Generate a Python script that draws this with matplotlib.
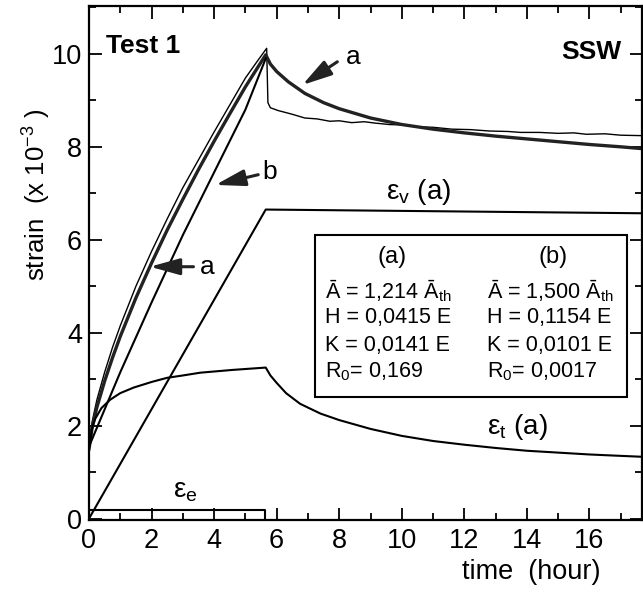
import matplotlib
matplotlib.use('Agg')
import matplotlib.pyplot as plt
from matplotlib.patches import Rectangle
from matplotlib.ticker import MultipleLocator

plt.rcParams['font.family'] = ['Liberation Sans', 'DejaVu Sans']
plt.rcParams['mathtext.fontset'] = 'custom'
plt.rcParams['mathtext.rm'] = 'Liberation Sans'
plt.rcParams['mathtext.it'] = 'Liberation Sans:italic'

'''measured strain (thin noisy line), time in hours, strain x 1e-3'''
t_exp = [0, 0.05, 0.1, 0.25, 0.5, 0.75, 1, 1.5, 2, 2.5, 3, 3.5, 4, 4.5, 5, 5.4, 5.68,
         5.72, 5.8, 6.05, 6.5, 6.9, 7.3, 7.7, 8.0, 8.4, 8.8, 9.15, 9.6, 10.0, 10.5,
         11.0, 11.6, 12.2, 12.8, 13.4, 13.8, 14.4, 15.0, 15.5, 15.9, 16.5, 17.0, 17.7]
s_exp = [1.6, 1.85, 2.08, 2.55, 3.15, 3.68, 4.15, 5.0, 5.75, 6.45, 7.12, 7.72, 8.32, 8.9, 9.48, 9.86, 10.12,
         8.95, 8.84, 8.78, 8.7, 8.62, 8.6, 8.55, 8.56, 8.52, 8.54, 8.51, 8.48, 8.47, 8.43,
         8.42, 8.38, 8.37, 8.34, 8.33, 8.31, 8.31, 8.29, 8.3, 8.27, 8.28, 8.25, 8.24]

'''model (a), thick line'''
t_a = [0, 0.1, 0.25, 0.5, 0.75, 1, 1.5, 2, 2.5, 3, 3.5, 4, 4.5, 5, 5.65,
       5.8, 6.0, 6.37, 6.9, 7.5, 8.0, 9.0, 10.0, 11.0, 12.0, 13.0, 14.0, 15.0, 16.0, 17.0, 17.7]
s_a = [1.5, 1.95, 2.39, 2.96, 3.46, 3.92, 4.75, 5.5, 6.21, 6.87, 7.51, 8.12, 8.71, 9.29, 9.98,
       9.78, 9.62, 9.4, 9.15, 8.95, 8.82, 8.62, 8.48, 8.38, 8.3, 8.23, 8.17, 8.11, 8.05, 8.0, 7.96]

'''model (b), loading part'''
t_b = [0, 1, 2, 3, 4, 5, 5.65]
s_b = [1.55, 3.15, 4.65, 6.1, 7.45, 8.8, 9.9]

'''components of model (a)'''
t_v = [0, 5.65, 17.7]
s_v = [0, 6.65, 6.57]

t_t = [0, 0.1, 0.2, 0.4, 0.68, 1.0, 1.43, 2.0, 2.5, 3.0, 3.56, 4.6, 5.65,
       5.8, 6.0, 6.3, 6.75, 7.4, 8.0, 9.0, 10.0, 11.0, 12.0, 13.0, 14.0, 15.0, 16.0, 17.0, 17.7]
s_t = [1.5, 1.95, 2.15, 2.38, 2.56, 2.7, 2.82, 2.94, 3.03, 3.08, 3.14, 3.2, 3.25,
       3.08, 2.92, 2.7, 2.47, 2.26, 2.12, 1.93, 1.78, 1.67, 1.59, 1.52, 1.46, 1.42, 1.38, 1.35, 1.33]

t_e = [0, 0, 5.64, 5.64]
s_e = [0, 0.18, 0.18, 0]

fig = plt.figure(figsize=(6.43, 5.93), dpi=100)
ax = fig.add_axes([89/643, 73/593, 553/643, 514/593])

ax.plot(t_exp, s_exp, color='black', lw=1.0)
ax.plot(t_a, s_a, color='#222222', lw=2.4)
ax.plot(t_b, s_b, color='black', lw=1.5)
ax.plot(t_v, s_v, color='black', lw=1.5)
ax.plot(t_t, s_t, color='black', lw=1.5)
ax.plot(t_e, s_e, color='black', lw=1.5)

ax.set_xlim(0, 17.68)
ax.set_ylim(-0.03, 11.03)
ax.xaxis.set_major_locator(MultipleLocator(2))
ax.xaxis.set_minor_locator(MultipleLocator(1))
ax.yaxis.set_major_locator(MultipleLocator(2))
ax.yaxis.set_minor_locator(MultipleLocator(1))
ax.tick_params(which='both', direction='in', top=True, right=True, width=1.3, labelsize=19.5)
ax.tick_params(which='major', length=9)
ax.tick_params(which='minor', length=5)
ax.tick_params(axis='x', pad=6)
ax.tick_params(axis='y', pad=5)
for sp in ax.spines.values():
    sp.set_linewidth(1.6)

'''arrows with labels'''
arr = dict(arrowstyle='-|>,head_length=0.9,head_width=0.25', lw=2.2, mutation_scale=20,
           color='#222222', shrinkA=0, shrinkB=0)
ax.annotate('', xy=(6.82, 9.33), xytext=(7.94, 9.83), arrowprops=arr)
ax.text(8.2, 9.94, 'a', fontsize=19, va='center')
ax.annotate('', xy=(4.04, 7.18), xytext=(5.41, 7.40), arrowprops=arr)
ax.text(5.55, 7.46, 'b', fontsize=19, va='center')
ax.annotate('', xy=(1.95, 5.42), xytext=(3.34, 5.42), arrowprops=arr)
ax.text(3.55, 5.42, 'a', fontsize=19, va='center')

ax.text(9.5, 7.03, 'ε$_\\mathrm{v}$ (a)', fontsize=20, va='center')
ax.text(12.73, 1.98, 'ε$_\\mathrm{t}$ (a)', fontsize=20, va='center')
ax.text(2.7, 0.6, 'ε$_\\mathrm{e}$', fontsize=20, va='center')

ax.text(0.03, 0.922, 'Test 1', transform=ax.transAxes, fontsize=19, fontweight='bold', va='center')
ax.text(0.962, 0.91, 'SSW', transform=ax.transAxes, fontsize=19, fontweight='bold', va='center', ha='right')

'''parameter box'''
ax.add_patch(Rectangle((0.409, 0.239), 0.564, 0.315, transform=ax.transAxes,
                       facecolor='white', edgecolor='black', lw=1.5, zorder=3))
rows = [0.447, 0.393, 0.340, 0.288]
col_a = ['Ā = 1,214 Ā$_\\mathrm{th}$', 'H = 0,0415 E', 'K = 0,0141 E', 'R$_0$= 0,169']
col_b = ['Ā = 1,500 Ā$_\\mathrm{th}$', 'H = 0,1154 E', 'K = 0,0101 E', 'R$_0$= 0,0017']
ax.text(0.548, 0.512, '(a)', transform=ax.transAxes, fontsize=17, ha='center', va='center', zorder=4)
ax.text(0.839, 0.512, '(b)', transform=ax.transAxes, fontsize=17, ha='center', va='center', zorder=4)
for y, sa, sb in zip(rows, col_a, col_b):
    ax.text(0.427, y, sa, transform=ax.transAxes, fontsize=15.5, va='center', zorder=4)
    ax.text(0.720, y, sb, transform=ax.transAxes, fontsize=15.5, va='center', zorder=4)

fig.text(37/643, 1 - 195/593, 'strain  (x 10$^{-3}$ )', rotation=90, fontsize=18.5,
         ha='center', va='center')
fig.text(600/643, 1 - 572/593, 'time  (hour)', fontsize=19.5, ha='right', va='center')

fig.savefig('out.png', dpi=100)
